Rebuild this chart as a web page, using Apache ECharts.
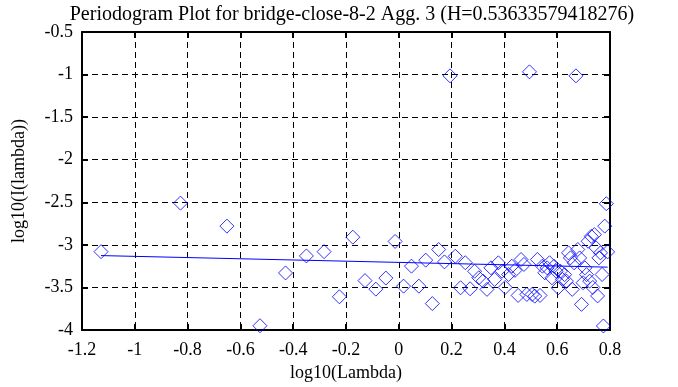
<!DOCTYPE html>
<html>
<head>
<meta charset="utf-8">
<script src="https://cdn.jsdelivr.net/npm/echarts@6/dist/echarts.min.js"></script>
<style>
html,body{margin:0;padding:0;background:#fff;}
#chart{width:678px;height:387px;}
</style>
</head>
<body>
<div id="chart"></div>
<script>
const titleText = 'Periodogram Plot for bridge-close-8-2 Agg. 3 (H=0.53633579418276)';
const xName = 'log10(Lambda)';
const yName = 'log10(I(lambda))';

// log10(lambda) of each periodogram point
const logLambda = [
  -1.128, -0.827, -0.651, -0.526, -0.429, -0.350, -0.283, -0.225, -0.174, -0.128,
  -0.087, -0.049, -0.014, 0.018, 0.048, 0.076, 0.102, 0.127, 0.151, 0.173,
  0.194, 0.214, 0.234, 0.252, 0.270, 0.287, 0.303, 0.319, 0.334, 0.349,
  0.363, 0.377, 0.391, 0.403, 0.416, 0.428, 0.440, 0.452, 0.463, 0.474,
  0.485, 0.495, 0.505, 0.515, 0.525, 0.535, 0.544, 0.553, 0.562, 0.571,
  0.580, 0.588, 0.596, 0.604, 0.612, 0.620, 0.628, 0.635, 0.643, 0.650,
  0.657, 0.664, 0.671, 0.678, 0.685, 0.692, 0.698, 0.705, 0.711, 0.717,
  0.723, 0.729, 0.735, 0.741, 0.747, 0.753, 0.758, 0.764, 0.770, 0.775,
  0.780, 0.786, 0.791
];
// log10(I(lambda)) of each point
const logI = [
  -3.08, -2.51, -2.78, -3.95, -3.33, -3.13, -3.08, -3.61, -2.91, -3.42,
  -3.52, -3.39, -2.96, -3.485, -3.25, -3.485, -3.18, -3.69, -3.055, -3.20,
  -1.015, -3.134, -3.504, -3.21, -3.516, -3.31, -3.387, -3.426, -3.523, -3.27,
  -3.406, -3.211, -3.309, -3.50, -3.348, -3.251, -3.30, -3.594, -3.172, -3.23,
  -3.582, -0.968, -3.582, -3.602, -3.172, -3.594, -3.25, -3.328, -3.27, -3.21,
  -3.387, -3.251, -3.31, -3.504, -3.31, -3.406, -3.35, -3.426, -3.094, -3.153,
  -3.523, -3.211, -1.015, -3.055, -3.153, -3.699, -3.445, -3.27, -3.35, -2.958,
  -3.426, -2.90, -3.50, -2.88, -3.035, -3.60, -3.153, -3.094, -3.348, -3.953,
  -2.78, -2.517, -3.082
];
// fitted regression line end points
const fitX = [-1.128, 0.791];
const fitY = [-3.126, -3.262];

const xTicks = {min: -1.2, max: 0.8, interval: 0.2};
const yTicks = {min: -4, max: -0.5, interval: 0.5};

const font = '"Liberation Serif", "Times New Roman", serif';
const fmt = v => String(+v.toFixed(1));

const points = logLambda.map((x, i) => [x, logI[i]]);
const fit = fitX.map((x, i) => [x, fitY[i]]);

const axisLine = {show: true, onZero: false, lineStyle: {color: '#000', width: 2}};
const axisTick = {show: true, inside: true, length: 6, lineStyle: {color: '#000', width: 2}};
const split = {show: true, lineStyle: {color: '#000', width: 1, type: [6, 4]}};

const chart = echarts.init(document.getElementById('chart'), null, {renderer: 'canvas'});
chart.setOption({
  animation: false,
  backgroundColor: '#fff',
  title: {
    text: titleText, left: 347, top: 0, textAlign: 'center',
    textStyle: {fontFamily: font, fontSize: 20, fontWeight: 'normal', color: '#000'}
  },
  grid: {left: 82, right: 68, top: 32, bottom: 56, containLabel: false},
  xAxis: [{
    type: 'value', min: xTicks.min, max: xTicks.max, interval: xTicks.interval,
    name: xName, nameLocation: 'middle', nameGap: 34,
    nameTextStyle: {fontFamily: font, fontSize: 18, color: '#000'},
    axisLine, axisTick, splitLine: split,
    axisLabel: {fontFamily: font, fontSize: 18, color: '#000', margin: 11, formatter: fmt}
  }, {
    type: 'value', position: 'top', min: xTicks.min, max: xTicks.max, interval: xTicks.interval,
    axisLine, axisTick, splitLine: {show: false}, axisLabel: {show: false}
  }],
  yAxis: [{
    type: 'value', min: yTicks.min, max: yTicks.max, interval: yTicks.interval,
    name: yName, nameLocation: 'middle', nameGap: 54,
    nameTextStyle: {fontFamily: font, fontSize: 18, color: '#000'},
    axisLine, axisTick, splitLine: split,
    axisLabel: {fontFamily: font, fontSize: 18, color: '#000', margin: 9, formatter: fmt}
  }, {
    type: 'value', position: 'right', min: yTicks.min, max: yTicks.max, interval: yTicks.interval,
    axisLine, axisTick, splitLine: {show: false}, axisLabel: {show: false}
  }],
  series: [{
    type: 'scatter', data: points, symbol: 'diamond', symbolSize: 14, clip: false,
    itemStyle: {color: 'rgba(0,0,0,0)', borderColor: '#0000ff', borderWidth: 1},
    emphasis: {disabled: true}, z: 3
  }, {
    type: 'line', data: fit, showSymbol: false, symbol: 'none',
    lineStyle: {color: '#0000ff', width: 1}, z: 4
  }]
});
</script>
</body>
</html>
